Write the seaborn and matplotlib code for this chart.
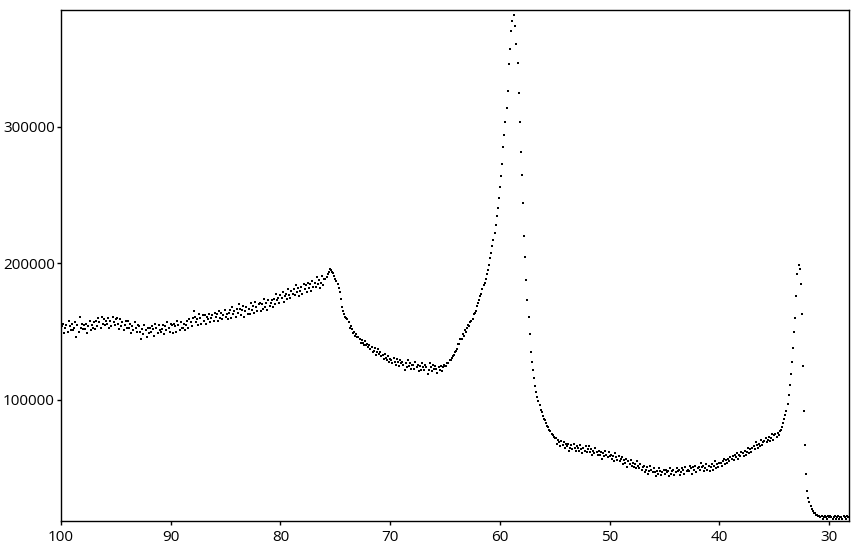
import numpy as np
import pandas as pd
import seaborn as sns
import matplotlib.pyplot as plt

# 2-theta sampling grid (degrees)
two_theta_start = 28.3
two_theta_step = 0.1

# intensity, in thousands of counts
# one row per degree: values at d.0, d.1, ... d.9
low_angle_tail = [
    [14, 15, 13, 14, 15, 13, 14],                      # 28.3 - 28.9
    [14, 13, 15, 14, 13, 15, 14, 13, 14, 15],          # 29
    [14, 15, 13, 14, 15, 14, 13, 15, 14, 15],          # 30
    [15, 16, 16, 17, 17, 19, 20, 22, 25, 28],          # 31
    [33, 46, 67, 92, 125, 163, 185, 196, 199, 192],    # 32
    [176, 160, 150, 138, 128, 119, 111, 104, 97, 92],  # 33
]
mid_plateau = [
    [89, 86, 83, 80, 78, 77, 74, 76, 73, 75],  # 34
    [74, 71, 75, 72, 70, 73, 71, 69, 72, 70],
    [69, 67, 71, 66, 68, 65, 67, 69, 64, 66],
    [65, 62, 64, 61, 65, 62, 60, 63, 59, 61],
    [62, 59, 60, 57, 61, 58, 60, 56, 59, 57],
    [58, 55, 57, 54, 56, 53, 57, 55, 52, 54],
    [54, 51, 53, 50, 55, 52, 49, 53, 51, 48],  # 40
    [52, 49, 53, 50, 48, 52, 51, 54, 49, 51],
    [50, 47, 52, 49, 51, 46, 50, 52, 48, 49],
    [48, 51, 46, 49, 50, 47, 45, 49, 48, 50],
    [47, 45, 49, 48, 46, 50, 44, 48, 47, 49],
    [46, 49, 47, 45, 48, 50, 46, 48, 44, 47],
    [50, 47, 49, 52, 48, 46, 51, 49, 47, 52],
    [51, 49, 53, 50, 52, 55, 50, 53, 51, 54],
    [52, 56, 53, 55, 51, 57, 54, 56, 53, 58],
    [57, 55, 59, 56, 58, 61, 55, 59, 57, 60],
    [59, 62, 58, 60, 63, 59, 61, 57, 62, 60],  # 50
    [63, 60, 62, 65, 61, 63, 60, 64, 62, 66],
    [64, 62, 66, 63, 65, 61, 64, 67, 63, 65],
    [66, 63, 65, 68, 64, 67, 65, 63, 68, 66],
    [68, 65, 69, 67, 70, 66, 69, 71, 68, 72],
    [72, 73, 74, 75, 77, 78, 80, 81, 83, 85],  # 55
]
main_peak = [
    [86, 88, 91, 93, 96, 99, 102, 106, 110, 116],          # 56
    [122, 128, 135, 148, 161, 173, 188, 205, 220, 244],
    [265, 282, 304, 325, 347, 361, 374, 382, 386, 378],
    [370, 357, 346, 326, 314, 304, 294, 285, 273, 264],
    [256, 248, 241, 235, 228, 222, 217, 213, 208, 204],    # 60
    [199, 195, 192, 189, 186, 184, 181, 178, 176, 173],
    [171, 169, 165, 164, 163, 159, 158, 157, 154, 155],
    [153, 150, 151, 147, 148, 145, 145, 141, 141, 137],
    [136, 135, 133, 132, 131, 129, 129, 127, 127, 125],
]
shoulder = [
    [125, 126, 124, 121, 125, 122, 124, 120, 123, 125],  # 65
    [123, 126, 121, 124, 127, 122, 119, 124, 126, 122],
    [124, 127, 122, 125, 121, 126, 124, 128, 123, 126],
    [126, 123, 127, 125, 129, 124, 127, 122, 126, 128],
    [127, 129, 125, 128, 130, 126, 128, 131, 127, 129],
    [130, 128, 132, 129, 131, 134, 130, 133, 132, 135],  # 70
    [134, 137, 135, 133, 138, 136, 135, 139, 137, 140],
    [139, 141, 140, 143, 140, 142, 144, 142, 145, 146],
    [146, 148, 147, 150, 149, 152, 154, 153, 157, 159],
    [160, 161, 163, 165, 168, 174, 179, 182, 185, 187],
    [189, 191, 193, 194, 195, 196, 194, 192, 190, 189],  # 75
]
high_angle = [
    [189, 184, 191, 186, 182, 188, 185, 190, 183, 186],  # 76
    [183, 187, 180, 185, 182, 186, 179, 184, 181, 185],
    [178, 183, 180, 176, 182, 179, 184, 177, 181, 178],
    [180, 175, 177, 181, 174, 178, 176, 172, 179, 175],
    [177, 171, 175, 173, 178, 170, 174, 168, 173, 171],  # 80
    [169, 173, 166, 171, 168, 174, 167, 170, 165, 171],
    [170, 165, 168, 172, 164, 169, 166, 171, 163, 167],
    [163, 168, 165, 161, 169, 166, 162, 167, 170, 164],
    [167, 161, 165, 163, 168, 160, 166, 164, 159, 163],
    [161, 166, 162, 159, 164, 160, 165, 158, 163, 161],  # 85
    [164, 158, 162, 160, 157, 163, 159, 161, 156, 162],
    [158, 162, 156, 160, 163, 155, 159, 157, 161, 165],
    [160, 154, 157, 159, 153, 158, 155, 151, 156, 153],
    [153, 157, 151, 155, 158, 150, 154, 156, 149, 155],
    [156, 150, 153, 157, 151, 154, 148, 155, 152, 150],  # 90
    [151, 155, 149, 153, 156, 147, 152, 154, 150, 153],
    [149, 153, 146, 151, 155, 148, 152, 145, 150, 154],
    [155, 150, 153, 157, 151, 154, 149, 156, 153, 158],
    [153, 158, 155, 151, 157, 154, 159, 152, 156, 160],
    [159, 155, 157, 161, 154, 158, 153, 160, 156, 158],  # 95
    [155, 159, 156, 161, 153, 157, 160, 154, 158, 152],
    [157, 153, 155, 151, 158, 154, 149, 156, 152, 155],
    [152, 156, 153, 161, 150, 155, 146, 157, 153, 151],
    [156, 151, 154, 158, 150, 155, 153, 149, 156, 154],
    [155],                                               # 100.0
]

rows = low_angle_tail + mid_plateau + main_peak + shoulder + high_angle
intensity = np.concatenate([np.array(r, dtype=float) for r in rows]) * 1000
two_theta = np.round(two_theta_start + two_theta_step * np.arange(len(intensity)), 1)
df = pd.DataFrame({'two_theta': two_theta, 'intensity': intensity})

sns.set_style('ticks')
plt.rcParams['font.family'] = ['Open Sans', 'DejaVu Sans']

fig = plt.figure(figsize=(8.59, 5.5), dpi=100)
ax = fig.add_axes([61 / 859, 29 / 550, 788 / 859, 511 / 550])
sns.scatterplot(data=df, x='two_theta', y='intensity', marker='s', s=4,
                color='black', linewidth=0, ax=ax)

ax.set_xlim(100, 28.2)
ax.set_ylim(11355, 385700)
ax.set_xticks(range(100, 29, -10))
ax.set_yticks([100000, 200000, 300000])
ax.set_xlabel('')
ax.set_ylabel('')
ax.tick_params(direction='out', length=3, width=1, labelsize=11, colors='black')
ax.tick_params(axis='y', pad=1.5)
for sp in ax.spines.values():
    sp.set_visible(True)
    sp.set_color('black')
    sp.set_linewidth(1)

fig.savefig('out.png', dpi=100)
